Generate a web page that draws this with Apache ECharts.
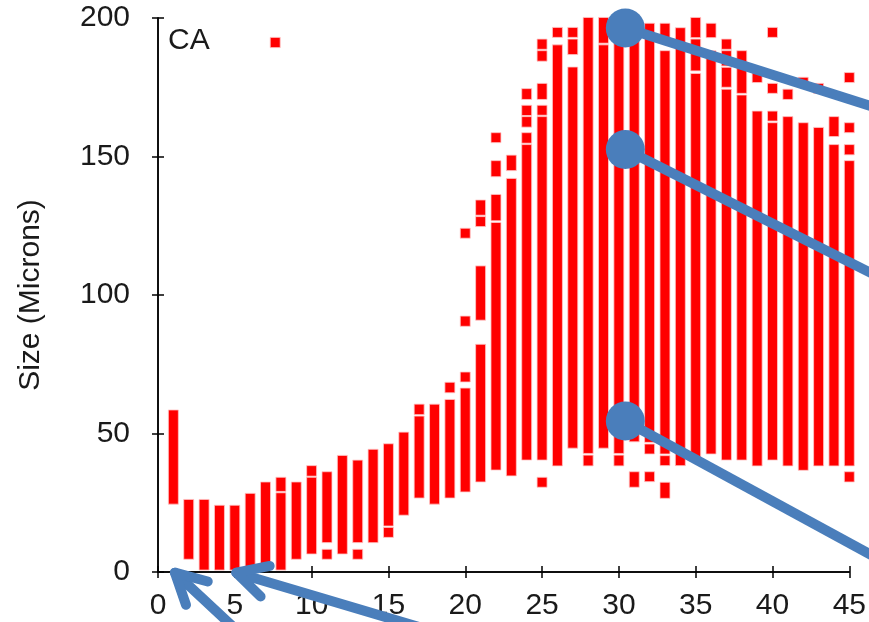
<!DOCTYPE html>
<html><head><meta charset="utf-8">
<script src="https://cdn.jsdelivr.net/npm/echarts@6/dist/echarts.min.js"></script>
<style>html,body{margin:0;padding:0;background:#fff}#c{width:869px;height:622px}</style>
</head><body><div id="c"></div>
<script>
// ---- data (Size in microns) ----
const xTicks = [0, 5, 10, 15, 20, 25, 30, 35, 40, 45];
const yTicks = [0, 50, 100, 150, 200];
const panelLabel = 'CA';
const yName = 'Size (Microns)';
// each entry = one red segment: column x, low value, high value
const segX = [
  1, 2, 3, 4, 5, 6, 7, 7.63,
  8, 8, 9, 10, 10, 11, 11, 12, 13, 13, 14, 15, 15,
  16, 17, 17, 18, 19, 19,
  20, 20, 20, 20,
  21, 21, 21, 21,
  22, 22, 22, 22,
  23, 23,
  24, 24, 24, 24, 24,
  25, 25, 25, 25, 25, 25,
  26, 26,
  27, 27, 27,
  28, 28,
  29, 29,
  30, 30,
  31, 31,
  32, 32, 32,
  33, 33, 33, 33,
  34,
  35, 35, 35,
  36, 36,
  37, 37, 37, 37,
  38, 38,
  39, 39,
  40, 40, 40, 40,
  41, 41,
  42, 42,
  43, 43,
  44, 44,
  45, 45, 45, 45, 45
];
const segLo = [
  24.5, 4.6, 0.7, 0.7, 0.7, 0.7, 0.7, 189.3,
  0.7, 29.1, 4.6, 6.5, 34.6, 4.6, 10.6, 6.5, 4.6, 10.6, 10.6, 12.5, 16.6,
  20.5, 26.7, 56.8, 24.5, 26.7, 64.7,
  28.9, 68.6, 88.7, 120.5,
  32.5, 90.9, 124.7, 128.8,
  36.8, 126.8, 142.7, 155.0,
  34.7, 144.9,
  40.4, 154.8, 160.6, 164.8, 170.6,
  30.6, 40.4, 164.9, 170.6, 184.4, 188.7,
  38.3, 193.0,
  44.7, 186.8, 193.0,
  38.3, 42.8,
  44.7, 190.9,
  38.3, 42.8,
  30.6, 47.0,
  32.6, 42.6, 46.8,
  26.6, 38.4, 42.6, 190.9,
  38.4,
  41.0, 180.9, 192.9,
  42.6, 192.9,
  40.4, 175.0, 182.7, 188.7,
  40.4, 172.8,
  38.3, 176.7,
  40.4, 162.8, 172.8, 193.0,
  38.3, 170.6,
  36.7, 175.0,
  38.3, 172.8,
  38.3, 157.2,
  32.5, 38.3, 150.6, 158.6, 176.7
];
const segHi = [
  58.5, 26.2, 26.2, 24.1, 24.1, 28.4, 32.5, 193.0,
  28.6, 34.2, 32.5, 34.2, 38.4, 8.2, 36.2, 42.1, 8.2, 40.4, 44.3, 16.1, 46.3,
  50.5, 56.3, 60.6, 60.6, 62.3, 68.5,
  66.4, 72.2, 92.4, 124.1,
  82.2, 110.5, 128.3, 134.3,
  126.2, 136.3, 148.5, 158.6,
  142.1, 150.5,
  154.3, 158.6, 164.4, 168.5, 174.5,
  34.2, 164.4, 168.5, 176.4, 188.2, 192.4,
  190.3, 196.6,
  182.3, 192.4, 196.6,
  42.2, 200.2,
  190.3, 200.2,
  42.2, 200.0,
  36.2, 200.0,
  36.2, 46.2, 198.1,
  32.4, 42.0, 188.2, 198.1,
  196.5,
  180.0, 192.4, 200.2,
  188.2, 198.1,
  174.3, 182.2, 188.2, 192.4,
  172.2, 188.2,
  166.4, 180.3,
  162.2, 166.4, 176.4, 196.6,
  164.4, 174.3,
  162.2, 178.6,
  160.5, 176.4,
  154.3, 164.4,
  36.2, 148.5, 154.3, 162.2, 180.3
];

// ---- overlay callouts (in data units of the chart) ----
const calloutCenters = [[30.42, 196.4], [30.42, 152.5], [30.42, 54.5]];
const calloutEnds = [[47, 167.1], [47, 106.3], [47, 4.4]];
const arrowTips = [[1.1, -0.25], [5.1, -0.25]];
const arrowTails = [[5.45, -22.7], [19.8, -24.5]];

const segData = segX.map((x, i) => [x, segLo[i], segHi[i]]);

const FONT = "'Liberation Sans', Arial, Helvetica, sans-serif";
const TXT = '#1a1a1a';
const chart = echarts.init(document.getElementById('c'), null, {renderer: 'canvas'});

const axisLine = {show: true, lineStyle: {color: '#000', width: 1.5}};
const axisTick = {show: true, inside: true, length: 6, lineStyle: {color: '#000', width: 1.5}};

chart.setOption({
  animation: false,
  backgroundColor: '#fff',
  grid: {left: 158, right: 17, top: 18, bottom: 50, containLabel: false},
  xAxis: [{
    type: 'value', min: xTicks[0], max: xTicks[xTicks.length - 1], interval: 5,
    position: 'bottom', axisLine, axisTick, splitLine: {show: false},
    axisLabel: {fontSize: 30, fontFamily: FONT, color: TXT, margin: 19}
  }, {
    type: 'value', min: xTicks[0], max: xTicks[xTicks.length - 1], interval: 5,
    position: 'top', axisLine, axisTick, splitLine: {show: false},
    axisLabel: {show: false}, z: 10
  }],
  yAxis: [{
    type: 'value', min: yTicks[0], max: yTicks[yTicks.length - 1], interval: 50,
    position: 'left', axisLine, axisTick, splitLine: {show: false},
    axisLabel: {fontSize: 30, fontFamily: FONT, color: TXT, margin: 28},
    name: yName, nameLocation: 'middle', nameRotate: 90, nameGap: 112,
    nameTextStyle: {fontSize: 30, fontFamily: FONT, color: TXT}
  }, {
    type: 'value', min: yTicks[0], max: yTicks[yTicks.length - 1], interval: 50,
    position: 'right', axisLine, axisTick, splitLine: {show: false},
    axisLabel: {show: false}, z: 10
  }],
  series: [{
    type: 'custom',
    xAxisIndex: 0, yAxisIndex: 0,
    clip: false,
    data: segData,
    encode: {x: 0, y: [1, 2]},
    renderItem: function (params, api) {
      const x = api.value(0), lo = api.value(1), hi = api.value(2);
      const pTop = api.coord([x, hi]);
      const pBot = api.coord([x, lo]);
      const w = api.size([0.65, 0])[0];
      return {
        type: 'rect',
        shape: {x: pTop[0] - w / 2, y: pTop[1], width: w, height: pBot[1] - pTop[1]},
        style: {fill: '#ff0000', stroke: '#ffc8c8', lineWidth: 0.8}
      };
    }
  }]
});

// overlay graphics through the chart's own coordinate conversion
const toPx = p => chart.convertToPixel({seriesIndex: 0}, p);
const BLUE = '#4a7ebb';
const g = [];
g.push({type: 'text', left: 168, top: 26, z: 50,
  style: {text: panelLabel, font: '30px ' + FONT, fill: TXT}});
calloutCenters.forEach((c, i) => {
  const a = toPx(c), b = toPx(calloutEnds[i]);
  g.push({type: 'polyline', z: 100, shape: {points: [a, b]},
    style: {stroke: BLUE, lineWidth: 10, fill: null}});
});
calloutCenters.forEach(c => {
  const a = toPx(c);
  g.push({type: 'circle', z: 101, shape: {cx: a[0], cy: a[1], r: 19.5},
    style: {fill: BLUE}});
});
arrowTips.forEach((t, i) => {
  const a = toPx(t), b = toPx(arrowTails[i]);
  const ang = Math.atan2(b[1] - a[1], b[0] - a[0]);
  const L = 34, spread = 28 * Math.PI / 180;
  const arm1 = [a[0] + L * Math.cos(ang - spread), a[1] + L * Math.sin(ang - spread)];
  const arm2 = [a[0] + L * Math.cos(ang + spread), a[1] + L * Math.sin(ang + spread)];
  g.push({type: 'polyline', z: 100, shape: {points: [a, b]},
    style: {stroke: BLUE, lineWidth: 10, fill: null, lineCap: 'round'}});
  g.push({type: 'polyline', z: 100, shape: {points: [arm1, a, arm2]},
    style: {stroke: BLUE, lineWidth: 10, fill: null, lineCap: 'round', lineJoin: 'round'}});
});
chart.setOption({graphic: {elements: g}});
</script>
</body></html>
